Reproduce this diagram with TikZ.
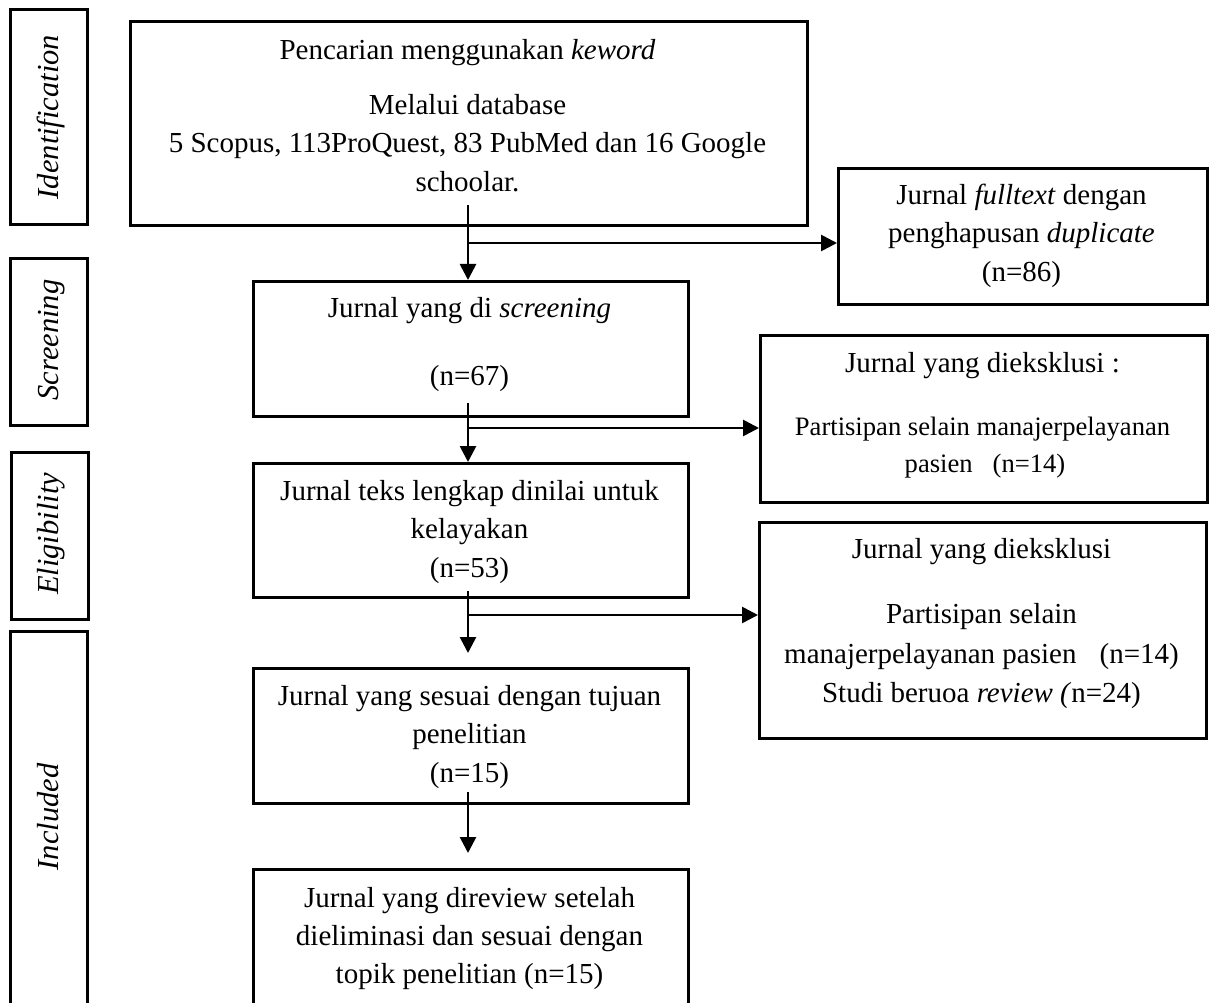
\documentclass[tikz,border=0pt]{standalone}
\usepackage{fontspec}
\setmainfont{Liberation Serif}
\usetikzlibrary{arrows.meta,calc}
\begin{document}
\begin{tikzpicture}[x=1pt,y=-1pt,
  box/.style={draw, line width=2.9pt, inner sep=0pt, anchor=north west},
  txt/.style={anchor=base, inner sep=0pt, font=\fontsize{29}{38}\selectfont},
  smalltxt/.style={anchor=base, inner sep=0pt, font=\fontsize{26.6}{37}\selectfont},
  side/.style={anchor=base, rotate=90, inner sep=0pt, font=\fontsize{30.5}{38}\selectfont\itshape},
  arr/.style={line width=2.7pt, -{Triangle[length=16pt,width=16pt]}}]
\useasboundingbox (0,0) rectangle (1211,1003);
\fill[white] (0,0) rectangle (1211,1003);

% side stage boxes
\node[box, minimum width=77pt, minimum height=215pt] (sid) at (9,8) {};
\node[box, minimum width=77pt, minimum height=167pt] (ssc) at (9,257) {};
\node[box, minimum width=77pt, minimum height=167pt] (sel) at (10,451) {};
\node[box, minimum width=77pt, minimum height=385pt] (sin) at (9,630) {};
\node[side] (lid) at (58,117) {Identification};
\node[side] (lsc) at (58,340) {Screening};
\node[side] (lel) at (58,534) {Eligibility};
\node[side] (lin) at (58,817) {Included};

% main boxes
\node[box, minimum width=677pt, minimum height=204pt] (b1) at (129,20) {};
\node[box, minimum width=435pt, minimum height=135pt] (b2) at (252,280) {};
\node[box, minimum width=369pt, minimum height=136pt] (b3) at (837,167) {};
\node[box, minimum width=435pt, minimum height=134pt] (b4) at (252,462) {};
\node[box, minimum width=447pt, minimum height=167pt] (b5) at (759,334) {};
\node[box, minimum width=435pt, minimum height=135pt] (b6) at (252,667) {};
\node[box, minimum width=447pt, minimum height=216pt] (b7) at (758,521) {};
\node[box, minimum width=435pt, minimum height=150pt] (b8) at (252,868) {};

% texts
\node[txt] (t1a) at (467.5,60) {Pencarian menggunakan \textit{keword}};
\node[txt] (t1b) at (467.5,115) {Melalui database};
\node[txt] (t1c) at (467.5,153) {5 Scopus, 113ProQuest, 83 PubMed dan 16 Google};
\node[txt] (t1d) at (467.5,192) {schoolar.};

\node[txt] (t3a) at (1021.5,205) {Jurnal \textit{fulltext} dengan};
\node[txt] (t3b) at (1021.5,243) {penghapusan \textit{duplicate}};
\node[txt] (t3c) at (1021.5,282) {(n=86)};

\node[txt] (t2a) at (469.5,318) {Jurnal yang di \textit{screening}};
\node[txt] (t2b) at (469.5,385) {(n=67)};

\node[txt] (t5a) at (982.5,372) {Jurnal yang dieksklusi :};
\node[smalltxt] (t5b) at (982.5,435) {Partisipan selain manajerpelayanan};
\node[smalltxt] (t5c) at (985,472) {pasien\hspace{0.5em} (n=14)};

\node[txt] (t4a) at (469.5,500) {Jurnal teks lengkap dinilai untuk};
\node[txt] (t4b) at (469.5,538) {kelayakan};
\node[txt] (t4c) at (469.5,577) {(n=53)};

\node[txt] (t7a) at (981.5,558) {Jurnal yang dieksklusi};
\node[txt] (t7b) at (981.5,623) {Partisipan selain};
\node[txt] (t7c) at (981.5,663) {manajerpelayanan pasien\hspace{0.55em} (n=14)};
\node[txt] (t7d) at (981.5,702) {Studi beruoa \textit{review (}n=24)};

\node[txt] (t6a) at (469.5,705) {Jurnal yang sesuai dengan tujuan};
\node[txt] (t6b) at (469.5,743) {penelitian};
\node[txt] (t6c) at (469.5,782) {(n=15)};

\node[txt] (t8a) at (469.5,907) {Jurnal yang direview setelah};
\node[txt] (t8b) at (469.5,945) {dieliminasi dan sesuai dengan};
\node[txt] (t8c) at (469.5,983) {topik penelitian (n=15)};

% connectors
\coordinate (s1) at (468,205);
\coordinate (j1) at (468,243);
\coordinate (s2) at (468,403);
\coordinate (j2) at (468,428);
\coordinate (s3) at (468,591);
\coordinate (j3) at (468,615);
\coordinate (s4) at (468,792);

\draw[arr] (s1) -- (s1 |- b2.north);
\draw[arr] (j1) -- (j1 -| b3.west);
\draw[arr] (s2) -- (s2 |- b4.north);
\draw[arr] (j2) -- (j2 -| b5.west);
\draw[arr] (s3) -- ($(s3 |- b6.north)+(0,-14)$);
\draw[arr] (j3) -- (j3 -| b7.west);
\draw[arr] (s4) -- ($(s4 |- b8.north)+(0,-15)$);
\end{tikzpicture}
\end{document}
